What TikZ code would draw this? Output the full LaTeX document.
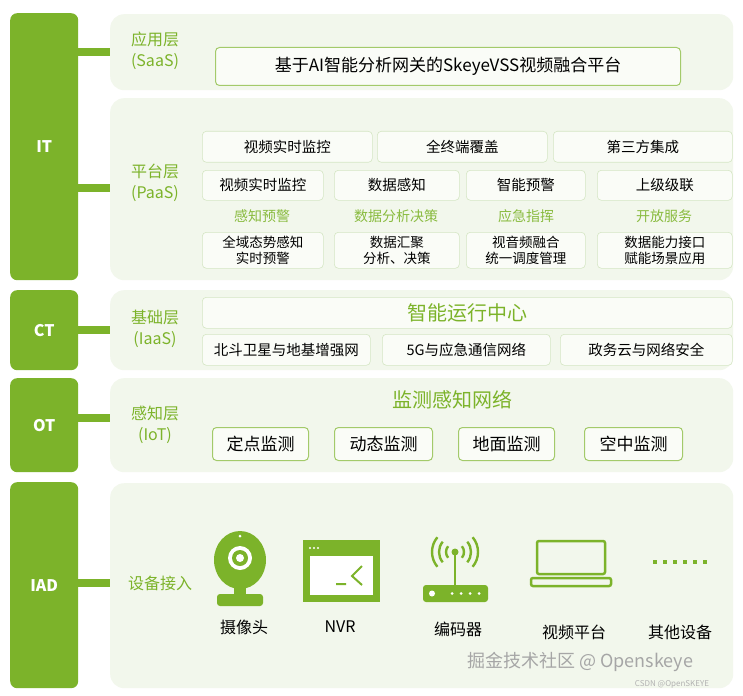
\documentclass[tikz,border=0pt]{standalone}
\usepackage{fontspec}
\setmainfont{Noto Sans CJK SC}
\begin{document}
\begin{tikzpicture}[x=1pt,y=-1pt,
  every node/.style={inner sep=0pt},
  bar/.style={fill=g,rounded corners=7pt,text=white,font=\bfseries\fontsize{16}{18}\selectfont},
  panel/.style={fill=pbg,rounded corners=14pt},
  link/.style={draw=g,line width=8pt},
  lay/.style={text=g,font=\fontsize{16}{21}\selectfont,align=center},
  cell/.style={draw=cb,fill=white!60!pbg,rounded corners=4pt,line width=0.6pt,font=\fontsize{14.5}{17}\selectfont,align=center},
  gbox/.style={draw=g!70,fill=white!60!pbg,rounded corners=4pt,line width=1pt,font=\fontsize{17}{20}\selectfont},
  sub/.style={text=g!90,font=\fontsize{14}{16}\selectfont},
  dev/.style={font=\fontsize{16}{19}\selectfont}]
\definecolor{g}{HTML}{7CB32A}
\definecolor{pbg}{HTML}{F2F7EC}
\definecolor{cb}{HTML}{D5E6C4}
\useasboundingbox[fill=white] (0,0) rectangle (743,695);
% panels
\node[panel,minimum width=623,minimum height=76,anchor=north west] (ps) at (110,14) {};
\node[panel,minimum width=623,minimum height=182,anchor=north west] (pp) at (110,98) {};
\node[panel,minimum width=623,minimum height=80,anchor=north west] (pc) at (110,290) {};
\node[panel,minimum width=623,minimum height=94,anchor=north west] (po) at (110,378) {};
\node[panel,minimum width=623,minimum height=205,anchor=north west] (pi) at (110,483) {};
% bars
\node[bar,minimum width=68,minimum height=267,anchor=north west] (it) at (10,13) {IT};
\node[bar,minimum width=68,minimum height=80,anchor=north west] (ct) at (10,290) {CT};
\node[bar,minimum width=68,minimum height=94,anchor=north west] (ot) at (10,378) {OT};
\node[bar,minimum width=68,minimum height=206,anchor=north west] (iad) at (10,482) {IAD};
\coordinate (c1) at (78,52); \coordinate (c1e) at (110,52);
\coordinate (c2) at (78,188); \coordinate (c2e) at (110,188);
\coordinate (c3) at (78,330); \coordinate (c3e) at (110,330);
\coordinate (c4) at (78,418); \coordinate (c4e) at (110,418);
\coordinate (c5) at (78,583); \coordinate (c5e) at (110,583);
\draw[link] (c1)--(c1e); \draw[link] (c2)--(c2e); \draw[link] (c3)--(c3e); \draw[link] (c4)--(c4e); \draw[link] (c5)--(c5e);
% SaaS
\node[lay] (ls) at (155,51) {应用层\\(SaaS)};
\node[gbox,minimum width=465,minimum height=38,anchor=north west] (saas) at (215,47) {基于AI智能分析网关的SkeyeVSS视频融合平台};
% PaaS
\node[lay] (lp) at (155,183) {平台层\\(PaaS)};
\node[cell,minimum width=170,minimum height=31,anchor=north west] (a1) at (202,131) {视频实时监控};
\node[cell,minimum width=170,minimum height=31,anchor=north west] (a2) at (377,131) {全终端覆盖};
\node[cell,minimum width=179,minimum height=31,anchor=north west] (a3) at (553,131) {第三方集成};
\node[cell,minimum width=121,minimum height=30,anchor=north west] (b1) at (202,170) {视频实时监控};
\node[cell,minimum width=125,minimum height=30,anchor=north west] (b2) at (334,170) {数据感知};
\node[cell,minimum width=119,minimum height=30,anchor=north west] (b3) at (466,170) {智能预警};
\node[cell,minimum width=135,minimum height=30,anchor=north west] (b4) at (597,170) {上级级联};
\node[sub] (s1) at (262,216) {感知预警};
\node[sub] (s2) at (396,216) {数据分析决策};
\node[sub] (s3) at (526,216) {应急指挥};
\node[sub] (s4) at (664,216) {开放服务};
\node[cell,minimum width=121,minimum height=36,anchor=north west,font=\fontsize{13.5}{16}\selectfont] (d1) at (202,232) {全域态势感知\\实时预警};
\node[cell,minimum width=125,minimum height=36,anchor=north west,font=\fontsize{13.5}{16}\selectfont] (d2) at (334,232) {数据汇聚\\分析、决策};
\node[cell,minimum width=119,minimum height=36,anchor=north west,font=\fontsize{13.5}{16}\selectfont] (d3) at (466,232) {视音频融合\\统一调度管理};
\node[cell,minimum width=135,minimum height=36,anchor=north west,font=\fontsize{13.5}{16}\selectfont] (d4) at (597,232) {数据能力接口\\赋能场景应用};
% IaaS
\node[lay] (lc) at (155,329) {基础层\\(IaaS)};
\node[cell,minimum width=530,minimum height=31,anchor=north west,text=g,font=\fontsize{20}{23}\selectfont] (ioc) at (202,297) {智能运行中心};
\node[cell,minimum width=168,minimum height=31,anchor=north west] (e1) at (202,334) {北斗卫星与地基增强网};
\node[cell,minimum width=168,minimum height=31,anchor=north west] (e2) at (382,334) {5G与应急通信网络};
\node[cell,minimum width=172,minimum height=31,anchor=north west] (e3) at (560,334) {政务云与网络安全};
% IoT
\node[lay] (lo) at (155,425) {感知层\\(IoT)};
\node[text=g,font=\fontsize{20}{23}\selectfont] (net) at (452,400) {监测感知网络};
\node[gbox,minimum width=96,minimum height=33,anchor=north west] (f1) at (212,427) {定点监测};
\node[gbox,minimum width=98,minimum height=33,anchor=north west] (f2) at (334,427) {动态监测};
\node[gbox,minimum width=96,minimum height=33,anchor=north west] (f3) at (458,427) {地面监测};
\node[gbox,minimum width=98,minimum height=33,anchor=north west] (f4) at (584,427) {空中监测};
% IAD
\node[lay] (li) at (160,583) {设备接入};
% camera
\fill[g] (240,560) ellipse (26 and 29);
\fill[white] (240,558) circle (12);
\fill[g] (240,558) circle (8);
\fill[white] (240,558) circle (4);
\fill[white] (240,536) circle (1.5);
\fill[g] (234,586) rectangle (246,598);
\fill[g,rounded corners=3pt] (217,594) rectangle (263,606);
% NVR
\fill[g] (303,540) rectangle (380,602);
\fill[white] (310,556) rectangle (373,595);
\foreach \i in {0,1,2} \fill[white] (310+\i*4,548) circle (1.2);
\draw[g,line width=2pt] (336,584)--(346,584) (362,566)--(352,576)--(362,585);
% router
\fill[g,rounded corners=3pt] (423,585) rectangle (488,602);
\fill[white] (432,593.5) circle (3);
\foreach \i in {0,1,2,3} \fill[white] (452+\i*9,593.5) circle (1.5);
\draw[g,line width=2pt] (455,585)--(455,552);
\fill[g] (455,552) circle (3.5);
\foreach \r in {9,16,23} {\draw[g,line width=2.4pt] (455,552) ++(140:\r) arc (140:220:\r); \draw[g,line width=2.4pt] (455,552) ++(40:\r) arc (40:-40:\r);}
% laptop
\draw[g,line width=2.5pt,rounded corners=2pt] (537,574) rectangle (605,541);
\draw[g,line width=2.5pt,rounded corners=2pt] (531,578) rectangle (611,586);
% dots
\foreach \i in {0,...,5} \fill[g] (653+\i*10,560) rectangle (657+\i*10,564);
\node[dev] (n1) at (244,627) {摄像头};
\node[dev] (n2) at (340,627) {NVR};
\node[dev] (n3) at (458,629) {编码器};
\node[dev] (n4) at (574,632) {视频平台};
\node[dev] (n5) at (680,632) {其他设备};
\node[text=gray!70,font=\fontsize{18}{20}\selectfont] (wm) at (580,662) {掘金技术社区 @ Openskeye};
\node[text=gray!60,font=\fontsize{8}{9}\selectfont] (wm2) at (672,684) {CSDN @OpenSKEYE};
\end{tikzpicture}
\end{document}
